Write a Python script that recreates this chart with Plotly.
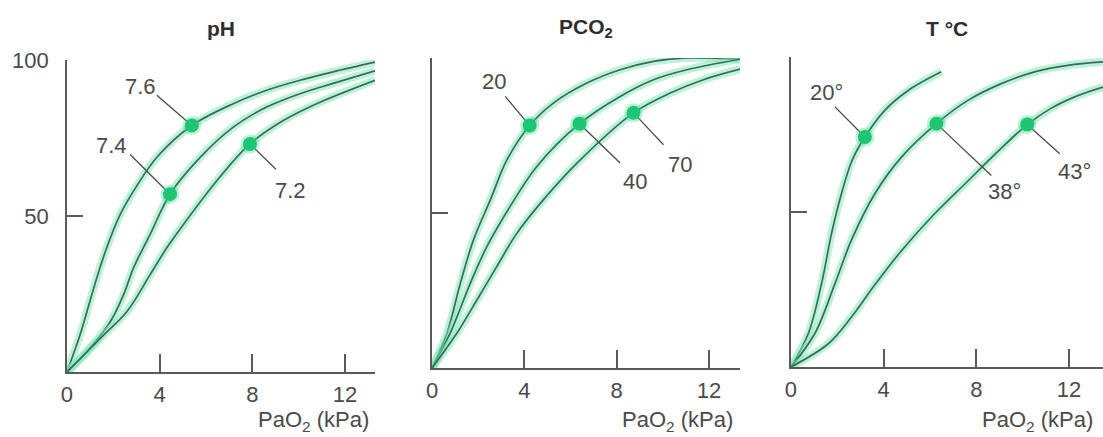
import plotly.graph_objects as go

# ---------------- data ----------------
panel_titles = ["pH", "PCO<sub>2</sub>", "T °C"]
x_tick_vals = [0, 4, 8, 12]
x_tick_text = ["0", "4", "8", "12"]
y_tick_vals = [50, 100]
y_tick_text = ["50", "100"]
x_axis_title = "PaO<sub>2</sub> (kPa)"

# Panel 1 : pH
ph_labels = ["7.6", "7.4", "7.2"]
ph76_x = [0, 0.57, 1.2, 1.7, 2.3, 3.0, 3.9, 5.39, 7.18, 8.62, 10.06, 11.49, 13.3]
ph76_y = [0, 12.0, 28.0, 39.5, 50.5, 59.5, 69.0, 79.0, 86.0, 90.3, 93.5, 96.2, 99.3]
ph74_x = [0, 0.86, 1.87, 2.44, 2.87, 3.59, 4.45, 5.75, 7.18, 8.62, 10.06, 11.49, 13.3]
ph74_y = [0, 6.5, 16.1, 24.7, 33.3, 44.1, 57.0, 68.8, 78.5, 84.9, 89.2, 92.5, 96.5]
ph72_x = [0, 1.44, 2.59, 3.59, 4.31, 5.03, 6.47, 7.90, 9.34, 10.78, 13.3]
ph72_y = [0, 10.8, 19.4, 31.2, 39.8, 47.3, 61.3, 73.1, 80.6, 86.0, 93.5]
ph_marker_x = [5.39, 4.45, 7.90]
ph_marker_y = [79.0, 57.0, 73.1]
ph_label_x = [3.16, 1.94, 9.63]
ph_label_y = [91.4, 72.6, 58.1]
ph_lead_x = [3.88, 2.73, 9.02]
ph_lead_y = [88.7, 69.7, 65.0]

# Panel 2 : PCO2
co2_labels = ["20", "40", "70"]
co2_20_x = [0, 0.65, 1.23, 1.80, 2.53, 3.25, 4.23, 5.27, 6.71, 8.15, 9.60, 11.04, 13.35]
co2_20_y = [0, 11.3, 27.4, 41.4, 54.3, 67.2, 78.2, 85.5, 91.9, 96.2, 98.9, 100.0, 99.6]
co2_40_x = [0, 0.79, 1.66, 2.38, 3.39, 4.55, 6.39, 8.15, 9.60, 11.04, 13.35]
co2_40_y = [0, 11.3, 27.4, 39.2, 52.2, 65.1, 78.8, 87.6, 93.0, 96.2, 99.6]
co2_70_x = [0, 1.08, 1.95, 2.81, 3.68, 4.83, 6.28, 8.73, 10.32, 11.76, 13.35]
co2_70_y = [0, 11.3, 22.0, 32.8, 43.5, 54.3, 66.1, 82.3, 88.7, 93.0, 96.4]
co2_marker_x = [4.23, 6.39, 8.73]
co2_marker_y = [78.2, 78.8, 82.3]
co2_label_x = [2.67, 8.80, 10.75]
co2_label_y = [92.5, 60.2, 65.6]
co2_lead_x = [3.17, 8.15, 10.03]
co2_lead_y = [87.6, 66.1, 72.0]

# Panel 3 : temperature
t_labels = ["20°", "38°", "43°"]
t20_x = [0, 0.75, 1.32, 1.75, 2.18, 2.64, 3.19, 4.05, 5.06, 6.49]
t20_y = [0, 10.8, 26.9, 43.0, 55.9, 66.7, 74.2, 82.8, 89.2, 95.2]
t38_x = [0, 1.03, 1.90, 2.61, 3.62, 4.77, 6.28, 7.64, 9.08, 10.52, 11.95, 13.47]
t38_y = [0, 10.8, 26.9, 40.9, 55.9, 67.7, 78.5, 86.0, 91.4, 95.2, 97.3, 98.4]
t43_x = [0, 1.61, 2.61, 3.62, 4.77, 6.21, 7.64, 8.79, 10.20, 11.24, 12.30, 13.47]
t43_y = [0, 7.5, 16.1, 26.5, 37.5, 49.5, 60.0, 68.5, 78.2, 83.5, 87.3, 90.3]
t_marker_x = [3.19, 6.28, 10.20]
t_marker_y = [74.2, 78.5, 78.2]
t_label_x = [1.54, 9.22, 12.26]
t_label_y = [88.7, 56.5, 62.9]
t_lead_x = [1.90, 8.65, 11.60]
t_lead_y = [83.9, 61.8, 68.8]

# ---------------- styling ----------------
GLOW = "rgba(120,232,180,0.5)"
CORE = "#3b6a5b"
MARK = "#1fc474"
AXC = "#5a5a5a"
TXT = "#4a4a4a"
FONT = "Liberation Sans, Arial, sans-serif"

panels = [
    dict(curves=[(ph76_x, ph76_y), (ph74_x, ph74_y), (ph72_x, ph72_y)],
         mx=ph_marker_x, my=ph_marker_y, lx=ph_label_x, ly=ph_label_y,
         ex=ph_lead_x, ey=ph_lead_y, labels=ph_labels,
         xdom=[0.0607, 0.3400], ydom=[0.1487, 0.8627], xmax=13.3),
    dict(curves=[(co2_20_x, co2_20_y), (co2_40_x, co2_40_y), (co2_70_x, co2_70_y)],
         mx=co2_marker_x, my=co2_marker_y, lx=co2_label_x, ly=co2_label_y,
         ex=co2_lead_x, ey=co2_lead_y, labels=co2_labels,
         xdom=[0.3917, 0.6710], ydom=[0.1579, 0.8673], xmax=13.35),
    dict(curves=[(t20_x, t20_y), (t38_x, t38_y), (t43_x, t43_y)],
         mx=t_marker_x, my=t_marker_y, lx=t_label_x, ly=t_label_y,
         ex=t_lead_x, ey=t_lead_y, labels=t_labels,
         xdom=[0.7171, 1.0], ydom=[0.1602, 0.8696], xmax=13.47),
]

fig = go.Figure()
annotations = []

for i, p in enumerate(panels):
    n = "" if i == 0 else str(i + 1)
    xa, ya = "x" + n, "y" + n
    for cx, cy in p["curves"]:
        fig.add_trace(go.Scatter(x=cx, y=cy, xaxis=xa, yaxis=ya, mode="lines",
                                 line=dict(color=GLOW, width=8, shape="spline", smoothing=1.0),
                                 hoverinfo="skip", showlegend=False))
        fig.add_trace(go.Scatter(x=cx, y=cy, xaxis=xa, yaxis=ya, mode="lines",
                                 line=dict(color=CORE, width=1.7, shape="spline", smoothing=1.0),
                                 showlegend=False))
    # leader lines
    for k in range(3):
        fig.add_trace(go.Scatter(x=[p["ex"][k], p["mx"][k]], y=[p["ey"][k], p["my"][k]],
                                 xaxis=xa, yaxis=ya, mode="lines",
                                 line=dict(color="#4a4a4a", width=1.3),
                                 hoverinfo="skip", showlegend=False))
    # markers
    fig.add_trace(go.Scatter(x=p["mx"], y=p["my"], xaxis=xa, yaxis=ya, mode="markers",
                             marker=dict(color="rgba(60,220,140,0.35)", size=19),
                             hoverinfo="skip", showlegend=False, cliponaxis=False))
    fig.add_trace(go.Scatter(x=p["mx"], y=p["my"], xaxis=xa, yaxis=ya, mode="markers",
                             marker=dict(color=MARK, size=14),
                             showlegend=False, cliponaxis=False))
    # point labels
    for k in range(3):
        annotations.append(dict(x=p["lx"][k], y=p["ly"][k], xref=xa, yref=ya,
                                text=p["labels"][k], showarrow=False,
                                xanchor="center", yanchor="middle",
                                font=dict(family=FONT, size=22, color=TXT)))
    # panel title
    annotations.append(dict(x=0.5, y=(437 - 28) / 437, xref=xa + " domain", yref="paper",
                            text="<b>" + panel_titles[i] + "</b>", showarrow=False,
                            xanchor="center", yanchor="middle",
                            font=dict(family=FONT, size=21, color="#2e2e2e")))
    # x axis title
    annotations.append(dict(x=13.14, y=(437 - 421) / 437, xref=xa, yref="paper",
                            text=x_axis_title, showarrow=False,
                            xanchor="right", yanchor="middle",
                            font=dict(family=FONT, size=22, color=TXT)))

    fig.update_layout(**{
        "xaxis" + n: dict(domain=p["xdom"], range=[0, p["xmax"]], anchor=ya,
                          automargin=False,
                          showgrid=False, zeroline=False, showline=True,
                          linecolor=AXC, linewidth=1.6,
                          ticks="inside", ticklen=18, tickwidth=1.5, tickcolor=AXC,
                          tickvals=x_tick_vals, ticktext=x_tick_text,
                          tickfont=dict(family=FONT, size=22, color=TXT),
                          ticklabelstandoff=2, fixedrange=True),
        "yaxis" + n: dict(domain=p["ydom"], range=[0, 100], anchor=xa,
                          automargin=False,
                          showgrid=False, zeroline=False, showline=True,
                          linecolor=AXC, linewidth=1.6,
                          ticks="inside", ticklen=16, tickwidth=1.5, tickcolor=AXC,
                          tickvals=y_tick_vals, ticktext=y_tick_text,
                          showticklabels=(i == 0),
                          tickfont=dict(family=FONT, size=22, color=TXT),
                          ticklabelstandoff=12, fixedrange=True),
    })

fig.update_layout(width=1103, height=437, margin=dict(l=0, r=0, t=0, b=0, autoexpand=False),
                  paper_bgcolor="white", plot_bgcolor="white",
                  annotations=annotations, showlegend=False)

fig.write_html("out.html", include_plotlyjs=True, full_html=True,
               config={"displayModeBar": False},
               post_script="document.body.style.margin='0';document.body.style.overflow='hidden';")
